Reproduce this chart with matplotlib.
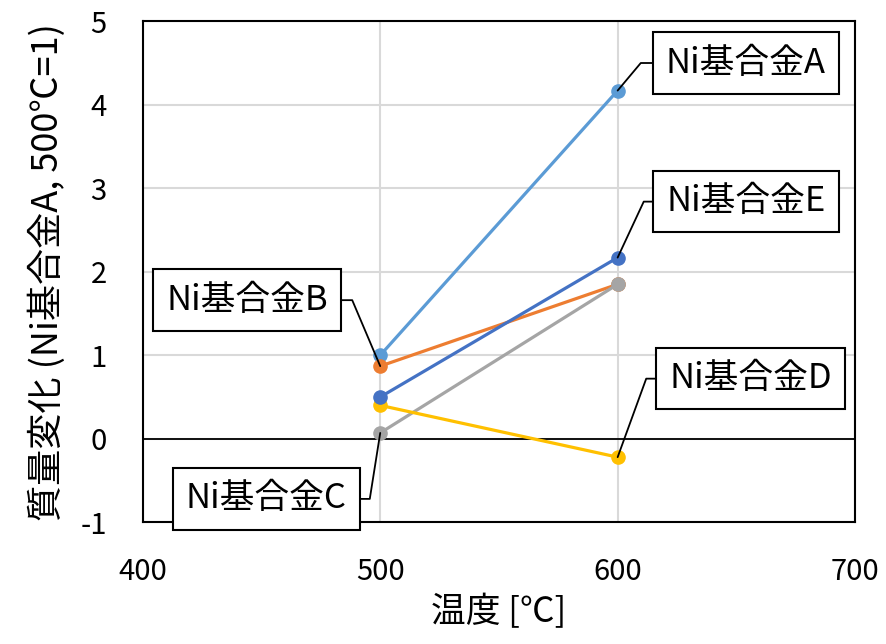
import matplotlib
matplotlib.use('Agg')
import matplotlib.pyplot as plt

plt.rcParams['font.family'] = ['Noto Sans CJK JP', 'DejaVu Sans']
plt.rcParams['axes.unicode_minus'] = False

# data
temps = [500, 600]
names = ['Ni基合金A', 'Ni基合金B', 'Ni基合金C', 'Ni基合金D', 'Ni基合金E']
vals_a = [1.00, 4.17]
vals_b = [0.87, 1.85]
vals_c = [0.07, 1.85]
vals_d = [0.40, -0.22]
vals_e = [0.50, 2.17]
colors = ['#5B9BD5', '#ED7D31', '#A5A5A5', '#FFC000', '#4472C4']

# label placement: (which point index, box centre, leader angle)
label_pos = [(1, (654, 4.50), 50), (0, (444, 1.66), 113), (0, (452, -0.72), 81),
             (1, (656, 0.72), 70), (1, (654, 2.84), 65)]

fig = plt.figure(figsize=(8.87, 6.44), dpi=100)
ax = fig.add_axes([0.161, 0.189, 0.803, 0.778])

series = [vals_a, vals_b, vals_c, vals_d, vals_e]
for vals, col in zip(series, colors):
    ax.plot(temps, vals, color=col, lw=2.3, marker='o', ms=9.5, zorder=3)

ax.set_xlim(400, 700)
ax.set_ylim(-1, 5)
ax.set_xticks([400, 500, 600, 700])
ax.set_yticks(range(-1, 6))
ax.grid(True, color='#D9D9D9', lw=1.5, zorder=0)
ax.axhline(0, color='black', lw=1.3, zorder=2)
for s in ax.spines.values():
    s.set_linewidth(1.5)
    s.set_color('black')
ax.tick_params(length=0, labelsize=21)
ax.tick_params(axis='y', pad=26)
ax.tick_params(axis='x', pad=25)

ax.set_xlabel('温度 [℃]', fontsize=25, labelpad=6)
ax.set_ylabel('質量変化 (Ni基合金A, 500℃=1)', fontsize=26, labelpad=10)

for name, vals, (idx, (tx, ty), ang) in zip(names, series, label_pos):
    ax.annotate(name, xy=(temps[idx], vals[idx]), xytext=(tx, ty),
                fontsize=25, ha='center', va='center', zorder=5,
                annotation_clip=False,
                bbox=dict(boxstyle='square,pad=0.38', fc='white', ec='black', lw=1.5),
                arrowprops=dict(arrowstyle='-', color='black', lw=1.3,
                                shrinkA=0, shrinkB=0,
                                connectionstyle=f'angle,angleA=0,angleB={ang},rad=0'))

plt.savefig('out.png', dpi=100)
